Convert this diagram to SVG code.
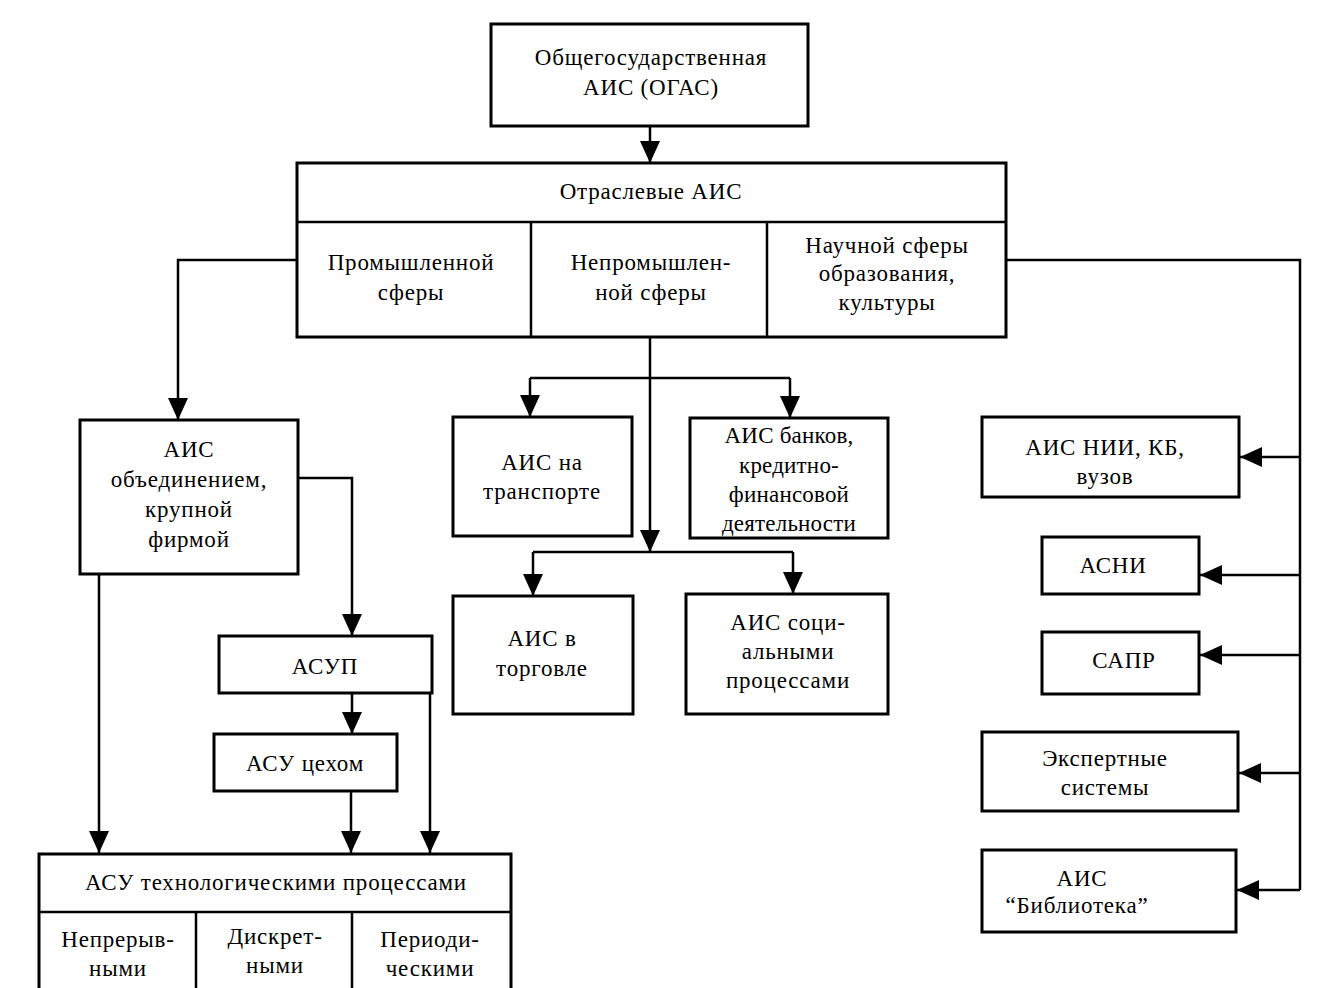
<svg xmlns="http://www.w3.org/2000/svg" width="1317" height="988" viewBox="0 0 1317 988">
<style>
.b{fill:#fff;stroke:#000;stroke-width:3}
.d{fill:none;stroke:#000;stroke-width:2.5}
.c{fill:none;stroke:#000;stroke-width:2.5}
text{font-family:"Liberation Serif","DejaVu Serif",serif;font-size:23px;fill:#000;text-anchor:middle;letter-spacing:0.8px}
.t{letter-spacing:0.2px}
</style>
<defs>
<marker id="ah" markerWidth="22" markerHeight="20" viewBox="0 0 22 20" refX="22" refY="10" orient="auto" markerUnits="userSpaceOnUse">
<path d="M0,0 L22,10 L0,20 Z" fill="#000"/>
</marker>
</defs>
<rect width="1317" height="988" fill="#fff"/>
<g id="connectors">
<path class="c" d="M650,126 V163" marker-end="url(#ah)"/>
<path class="c" d="M297,260 H178 V420" marker-end="url(#ah)"/>
<path class="c" d="M1006,260 H1300 V890"/>
<path class="c" d="M1300,457 H1240" marker-end="url(#ah)"/>
<path class="c" d="M1300,575 H1200" marker-end="url(#ah)"/>
<path class="c" d="M1300,655 H1200" marker-end="url(#ah)"/>
<path class="c" d="M1300,773 H1239" marker-end="url(#ah)"/>
<path class="c" d="M1300,890 H1237" marker-end="url(#ah)"/>
<path class="c" d="M650,337 V552" marker-end="url(#ah)"/>
<path class="c" d="M530,378 H790"/>
<path class="c" d="M530,378 V417" marker-end="url(#ah)"/>
<path class="c" d="M790,378 V418" marker-end="url(#ah)"/>
<path class="c" d="M533,552 H793"/>
<path class="c" d="M533,552 V596" marker-end="url(#ah)"/>
<path class="c" d="M793,552 V594" marker-end="url(#ah)"/>
<path class="c" d="M298,478 H352 V636" marker-end="url(#ah)"/>
<path class="c" d="M352,693 V734" marker-end="url(#ah)"/>
<path class="c" d="M351,791 V853" marker-end="url(#ah)"/>
<path class="c" d="M430,693 V853" marker-end="url(#ah)"/>
<path class="c" d="M99,574 V853" marker-end="url(#ah)"/>
</g>
<g id="ogas">
<rect class="b" x="491" y="24" width="317" height="102"/>
<text x="651" y="65">Общегосударственная</text>
<text x="651" y="95">АИС (ОГАС)</text>
</g>
<g id="otraslevye">
<rect class="b" x="297" y="163" width="709" height="174"/>
<line class="d" x1="297" y1="222" x2="1006" y2="222"/>
<line class="d" x1="531" y1="222" x2="531" y2="337"/>
<line class="d" x1="767" y1="222" x2="767" y2="337"/>
<text x="651" y="199">Отраслевые АИС</text>
<text x="411" y="270">Промышленной</text>
<text x="411" y="300">сферы</text>
<text x="651" y="270">Непромышлен-</text>
<text x="651" y="300">ной сферы</text>
<text x="887" y="253">Научной сферы</text>
<text x="887" y="281">образования,</text>
<text x="887" y="310">культуры</text>
</g>
<g id="ais-obed">
<rect class="b" x="80" y="420" width="218" height="154"/>
<text x="189" y="457">АИС</text>
<text x="189" y="487">объединением,</text>
<text x="189" y="517">крупной</text>
<text x="189" y="547">фирмой</text>
</g>
<g id="asup">
<rect class="b" x="219" y="636" width="213" height="57"/>
<text x="325" y="674">АСУП</text>
</g>
<g id="asu-ceh">
<rect class="b" x="214" y="734" width="183" height="57"/>
<text x="305" y="771">АСУ цехом</text>
</g>
<g id="asu-tp">
<path class="b" d="M39,988 V854 H511 V988"/>
<line class="d" x1="39" y1="912" x2="511" y2="912"/>
<line class="d" x1="196" y1="912" x2="196" y2="988"/>
<line class="d" x1="352" y1="912" x2="352" y2="988"/>
<text x="276" y="890">АСУ технологическими процессами</text>
<text x="118" y="947">Непрерыв-</text>
<text x="118" y="976">ными</text>
<text x="275" y="944">Дискрет-</text>
<text x="275" y="973">ными</text>
<text x="430" y="947">Периоди-</text>
<text x="430" y="976">ческими</text>
</g>
<g id="ais-transport">
<rect class="b" x="453" y="417" width="179" height="119"/>
<text x="542" y="470">АИС на</text>
<text x="542" y="499">транспорте</text>
</g>
<g id="ais-bank">
<rect class="b" x="690" y="418" width="198" height="120"/>
<text class="t" x="789" y="443">АИС банков,</text>
<text class="t" x="789" y="473">кредитно-</text>
<text class="t" x="789" y="502">финансовой</text>
<text class="t" x="789" y="531">деятельности</text>
</g>
<g id="ais-torg">
<rect class="b" x="453" y="596" width="180" height="118"/>
<text x="542" y="646">АИС в</text>
<text x="542" y="676">торговле</text>
</g>
<g id="ais-soc">
<rect class="b" x="686" y="594" width="202" height="120"/>
<text x="788" y="630">АИС соци-</text>
<text x="788" y="659">альными</text>
<text x="788" y="688">процессами</text>
</g>
<g id="ais-nii">
<rect class="b" x="982" y="417" width="257" height="80"/>
<text x="1105" y="455">АИС НИИ, КБ,</text>
<text x="1105" y="484">вузов</text>
</g>
<g id="asni">
<rect class="b" x="1042" y="537" width="157" height="57"/>
<text x="1113" y="573">АСНИ</text>
</g>
<g id="sapr">
<rect class="b" x="1042" y="632" width="157" height="62"/>
<text x="1124" y="668">САПР</text>
</g>
<g id="expert">
<rect class="b" x="982" y="732" width="256" height="79"/>
<text x="1105" y="766">Экспертные</text>
<text x="1105" y="795">системы</text>
</g>
<g id="biblio">
<rect class="b" x="982" y="850" width="254" height="82"/>
<text x="1082" y="886">АИС</text>
<text x="1077" y="913">“Библиотека”</text>
</g>
</svg>
